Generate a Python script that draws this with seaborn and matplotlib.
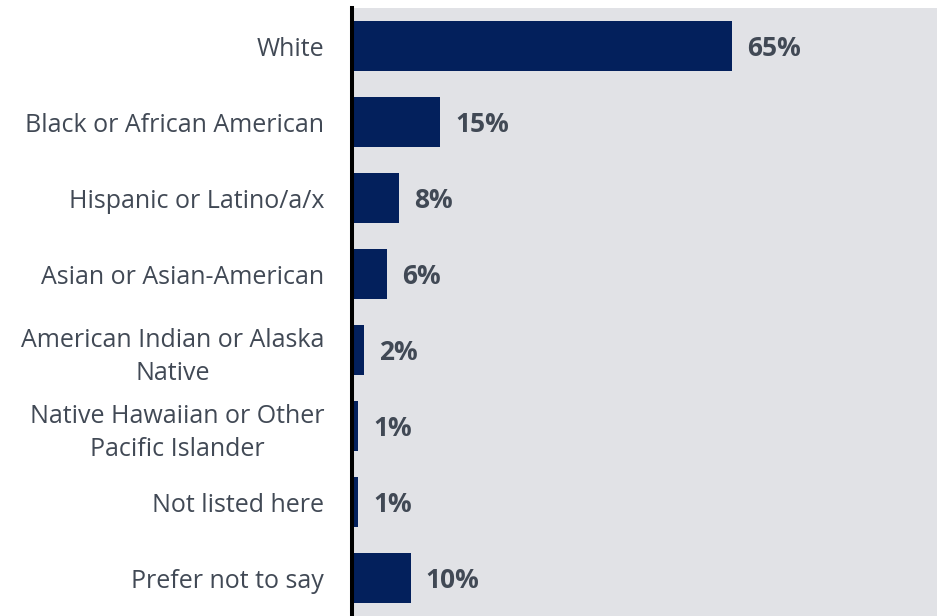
import matplotlib
matplotlib.use("Agg")
import matplotlib.pyplot as plt
import seaborn as sns
import pandas as pd

categories = [
    "White",
    "Black or African American",
    "Hispanic or Latino/a/x",
    "Asian or Asian-American",
    "American Indian or Alaska\nNative",
    "Native Hawaiian or Other\nPacific Islander",
    "Not listed here",
    "Prefer not to say",
]
percentages = [65, 15, 8, 6, 2, 1, 1, 10]
value_labels = [f"{v}%" for v in percentages]

df = pd.DataFrame({"group": categories, "pct": percentages})

sns.set_theme(style="white")
plt.rcParams["font.family"] = ["Open Sans", "DejaVu Sans"]

bar_color = "#03205c"
bg_color = "#e1e2e6"
text_color = "#414955"

fig = plt.figure(figsize=(9.39, 6.16), dpi=100)
ax = fig.add_axes([352 / 939, 0.0, (937 - 352) / 939, 608 / 616])
ax.set_facecolor(bg_color)

sns.barplot(data=df, y="group", x="pct", orient="h", color=bar_color,
            width=0.67, saturation=1, linewidth=0, ax=ax)

ax.set_xlim(0, 100)
ax.set_ylim(7.5, -0.5)
ax.set_xlabel("")
ax.set_ylabel("")
ax.set_xticks([])

for side in ["top", "right", "bottom"]:
    ax.spines[side].set_visible(False)
ax.spines["left"].set_color("black")
ax.spines["left"].set_linewidth(2.9)

ax.tick_params(axis="y", length=0, pad=20)
for lbl in ax.get_yticklabels():
    lbl.set_fontsize(18)
    lbl.set_color(text_color)
    lbl.set_multialignment("center")
    lbl.set_linespacing(1.4)

texts = ax.bar_label(ax.containers[0], labels=value_labels, padding=11,
                     fontsize=19, fontweight="bold", color=text_color)
for t in texts:
    t.set_va("center_baseline")

fig.savefig("out.png", dpi=100)
